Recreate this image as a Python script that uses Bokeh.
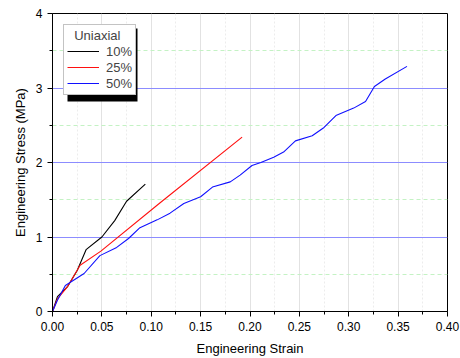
from bokeh.plotting import figure
from bokeh.models import Range1d, Legend, LegendItem, FixedTicker, NumeralTickFormatter, BoxAnnotation
from bokeh.embed import file_html
from bokeh.resources import INLINE

# Data
strain_10 = [0.0, 0.005, 0.015, 0.025, 0.034, 0.050, 0.063, 0.075, 0.094]
stress_10 = [0.0, 0.20, 0.33, 0.55, 0.83, 1.00, 1.22, 1.48, 1.71]

strain_25 = [0.0, 0.005, 0.015, 0.028, 0.049, 0.109, 0.192]
stress_25 = [0.0, 0.17, 0.33, 0.62, 0.81, 1.46, 2.34]

strain_50 = [0.0, 0.005, 0.013, 0.032, 0.048, 0.065, 0.077, 0.088, 0.106, 0.119,
             0.133, 0.150, 0.162, 0.180, 0.190, 0.202, 0.211, 0.224, 0.234, 0.246,
             0.263, 0.275, 0.287, 0.305, 0.317, 0.326, 0.337, 0.359]
stress_50 = [0.0, 0.15, 0.35, 0.51, 0.75, 0.86, 0.98, 1.12, 1.23, 1.32,
             1.45, 1.54, 1.67, 1.74, 1.83, 1.96, 2.00, 2.07, 2.14, 2.29,
             2.36, 2.47, 2.63, 2.73, 2.82, 3.02, 3.12, 3.29]

x_ticks = [0.0, 0.05, 0.10, 0.15, 0.20, 0.25, 0.30, 0.35, 0.40]
y_ticks = [0, 1, 2, 3, 4]
series_labels = ["10%", "25%", "50%"]
legend_title = "Uniaxial"

FONT = "Liberation Sans"

p = figure(width=460, height=358, output_backend="svg", toolbar_location=None,
           x_range=Range1d(0, 0.40), y_range=Range1d(0, 4),
           min_border_left=52, min_border_right=13, min_border_top=13, min_border_bottom=47)
p.background_fill_color = "white"
p.border_fill_color = "white"
p.outline_line_color = "black"
p.outline_line_width = 1

# Axes
p.xaxis.ticker = FixedTicker(ticks=x_ticks, minor_ticks=[0.025 + 0.05 * i for i in range(8)])
p.yaxis.ticker = FixedTicker(ticks=y_ticks, minor_ticks=[0.5, 1.5, 2.5, 3.5])
p.xaxis.formatter = NumeralTickFormatter(format="0.00")
p.xaxis.axis_label = "Engineering Strain"
p.yaxis.axis_label = "Engineering Stress (MPa)"
for ax in (p.xaxis, p.yaxis):
    ax.axis_line_color = "black"
    ax.major_tick_line_color = "black"
    ax.minor_tick_line_color = "black"
    ax.major_tick_out = 5
    ax.major_tick_in = 0
    ax.minor_tick_out = 3
    ax.minor_tick_in = 0
    ax.major_label_text_font = FONT
    ax.major_label_text_font_size = "12px"
    ax.major_label_text_color = "black"
    ax.axis_label_text_font = FONT
    ax.axis_label_text_font_size = "13px"
    ax.axis_label_text_font_style = "normal"
    ax.axis_label_text_color = "black"
p.xaxis.axis_label_standoff = 7
p.yaxis.axis_label_standoff = 5

# Grids
p.xgrid.grid_line_color = "#e2e2e2"
p.xgrid.grid_line_width = 1
p.xgrid.minor_grid_line_color = "#ececec"
p.xgrid.minor_grid_line_dash = "2 2"
p.ygrid.grid_line_color = "#8c8cff"
p.ygrid.grid_line_width = 1
p.ygrid.minor_grid_line_color = "#c4f2c4"
p.ygrid.minor_grid_line_dash = "4 3"

r10 = p.line(strain_10, stress_10, line_color="black", line_width=1.1)
r25 = p.line(strain_25, stress_25, line_color="#ff1010", line_width=1.1)
r50 = p.line(strain_50, stress_50, line_color="#1010ff", line_width=1.1)

# Legend drop shadow (legend box ~63..133 x 24..97 px, shadow offset 4 px)
shadow = BoxAnnotation(left=(67 - 52) / 987.5, right=(137 - 52) / 987.5,
                       top=(311 - 28) / 74.5, bottom=(311 - 101) / 74.5,
                       fill_color="black", fill_alpha=1.0, line_color=None)
p.add_layout(shadow)

legend = Legend(items=[LegendItem(label=series_labels[0], renderers=[r10]),
                       LegendItem(label=series_labels[1], renderers=[r25]),
                       LegendItem(label=series_labels[2], renderers=[r50])],
                location="top_left", title="\u00a0\u00a0" + legend_title)
legend.margin = 11
legend.padding = 3
legend.spacing = 0
legend.label_height = 16
legend.glyph_height = 16
legend.glyph_width = 32
legend.label_width = 20
legend.label_standoff = 7
legend.label_text_font = FONT
legend.label_text_font_size = "13px"
legend.title_text_font = FONT
legend.title_text_font_size = "13px"
legend.title_text_font_style = "normal"
legend.title_standoff = 0
legend.border_line_color = "#888888"
legend.border_line_width = 1
legend.background_fill_color = "white"
legend.background_fill_alpha = 1.0
p.add_layout(legend)

open("out.html", "w").write(file_html(p, INLINE))
